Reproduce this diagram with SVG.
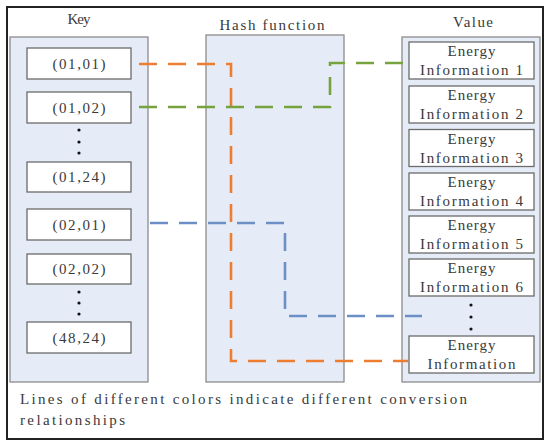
<svg xmlns="http://www.w3.org/2000/svg" width="550" height="447" viewBox="0 0 550 447">
<style>
text{font-family:"Liberation Serif","DejaVu Serif",serif;fill:#3a3a3a;font-size:15px;text-anchor:middle}
.panel{fill:#E6ECF7;stroke:#8c8c8c;stroke-width:1.3}
.box{fill:#ffffff;stroke:#6b6b6b;stroke-width:1.3}
.dot{fill:#111}
.ln{fill:none;stroke-width:2.6;stroke-dasharray:18 11}
</style>
<rect x="0" y="0" width="550" height="447" fill="#ffffff"/>
<rect x="7" y="7" width="536" height="432" fill="#ffffff" stroke="#222" stroke-width="2"/>
<text x="79" y="24" textLength="23" lengthAdjust="spacing">Key</text>
<text x="272" y="30" textLength="105" lengthAdjust="spacing">Hash function</text>
<text x="473" y="27" textLength="40" lengthAdjust="spacing">Value</text>
<g id="key-panel"><rect class="panel" x="10" y="37" width="138" height="345"/></g>
<g id="hash-panel"><rect class="panel" x="206" y="35" width="138" height="347"/></g>
<g id="value-panel"><rect class="panel" x="402" y="37" width="138" height="345"/></g>
<g id="k1"><rect class="box" x="27" y="48" width="104" height="31"/><text x="79" y="68.5" textLength="53" lengthAdjust="spacing">(01,01)</text></g>
<g id="k2"><rect class="box" x="27" y="92" width="104" height="31"/><text x="79" y="112.5" textLength="53" lengthAdjust="spacing">(01,02)</text></g>
<g id="kdots1"><circle class="dot" cx="79" cy="130" r="1.6"/><circle class="dot" cx="79" cy="142" r="1.6"/><circle class="dot" cx="79" cy="153" r="1.6"/></g>
<g id="k3"><rect class="box" x="27" y="162" width="104" height="30"/><text x="79" y="182" textLength="53" lengthAdjust="spacing">(01,24)</text></g>
<g id="k4"><rect class="box" x="27" y="209" width="104" height="31"/><text x="79" y="229.5" textLength="53" lengthAdjust="spacing">(02,01)</text></g>
<g id="k5"><rect class="box" x="27" y="254" width="104" height="30"/><text x="79" y="274" textLength="53" lengthAdjust="spacing">(02,02)</text></g>
<g id="kdots2"><circle class="dot" cx="79" cy="292" r="1.6"/><circle class="dot" cx="79" cy="303" r="1.6"/><circle class="dot" cx="79" cy="314" r="1.6"/></g>
<g id="k6"><rect class="box" x="27" y="322" width="104" height="31"/><text x="79" y="342.5" textLength="53" lengthAdjust="spacing">(48,24)</text></g>
<g id="v1"><rect class="box" x="409" y="42" width="125" height="37"/><text x="471.5" y="56" textLength="48" lengthAdjust="spacing">Energy</text><text x="471.5" y="75" textLength="103" lengthAdjust="spacing">Information 1</text></g>
<g id="v2"><rect class="box" x="409" y="86" width="125" height="37"/><text x="471.5" y="100" textLength="48" lengthAdjust="spacing">Energy</text><text x="471.5" y="119" textLength="103" lengthAdjust="spacing">Information 2</text></g>
<g id="v3"><rect class="box" x="409" y="129.5" width="125" height="37"/><text x="471.5" y="143.5" textLength="48" lengthAdjust="spacing">Energy</text><text x="471.5" y="162.5" textLength="103" lengthAdjust="spacing">Information 3</text></g>
<g id="v4"><rect class="box" x="409" y="173" width="125" height="37"/><text x="471.5" y="187" textLength="48" lengthAdjust="spacing">Energy</text><text x="471.5" y="206" textLength="103" lengthAdjust="spacing">Information 4</text></g>
<g id="v5"><rect class="box" x="409" y="216" width="125" height="37"/><text x="471.5" y="230" textLength="48" lengthAdjust="spacing">Energy</text><text x="471.5" y="249" textLength="103" lengthAdjust="spacing">Information 5</text></g>
<g id="v6"><rect class="box" x="409" y="259" width="125" height="37"/><text x="471.5" y="273" textLength="48" lengthAdjust="spacing">Energy</text><text x="471.5" y="292" textLength="103" lengthAdjust="spacing">Information 6</text></g>
<g id="vdots"><circle class="dot" cx="471" cy="305" r="1.6"/><circle class="dot" cx="471" cy="317" r="1.6"/><circle class="dot" cx="471" cy="329" r="1.6"/></g>
<g id="v7"><rect class="box" x="409" y="336" width="125" height="37"/><text x="471.5" y="350" textLength="48" lengthAdjust="spacing">Energy</text><text x="471.5" y="369" textLength="88" lengthAdjust="spacing">Information</text></g>
<g id="connectors">
<polyline class="ln" stroke="#ED7D31" points="139,64 231,64 231,361 408,361"/>
<polyline class="ln" stroke="#77A33F" points="139,107 330,107 330,63 408,63"/>
<polyline class="ln" stroke="#6C8FC6" points="150,223 285,223 285,316 422,316"/>
</g>
<text x="20" y="404" style="text-anchor:start" textLength="447" lengthAdjust="spacing">Lines of different colors indicate different conversion</text>
<text x="20" y="425" style="text-anchor:start" textLength="105" lengthAdjust="spacing">relationships</text>
</svg>
